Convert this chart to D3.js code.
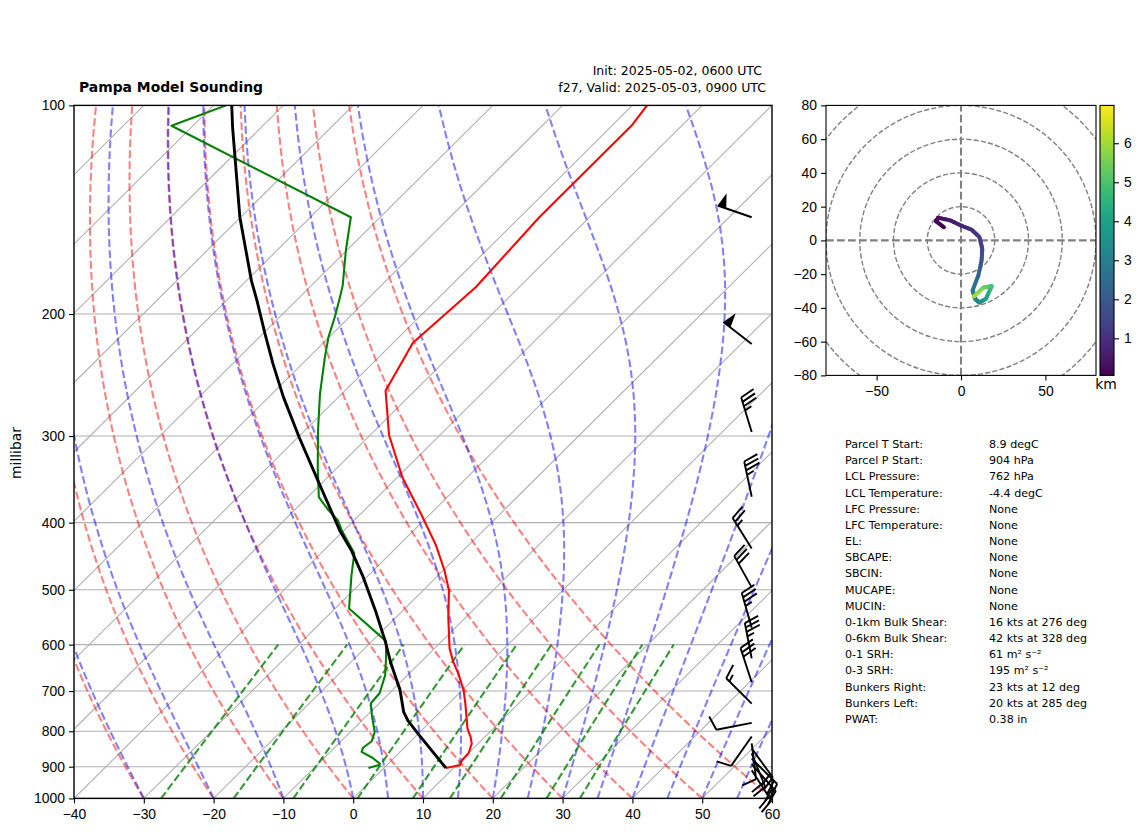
<!DOCTYPE html>
<html>
<head>
<meta charset="utf-8">
<script src="https://cdn.jsdelivr.net/npm/d3@7"></script>
<style>
  body { margin: 0; background: #fff; }
  svg { display: block; font-family: "DejaVu Sans", sans-serif; }
  .tick text { font-size: 13.9px; fill: #000; }
  .tick line, .domain { stroke: #000; stroke-width: 1.1px; }
  .grid { stroke: #b0b0b0; stroke-width: 1.1px; fill: none; }
  .info { font-size: 11.1px; }
  .head { font-size: 12.5px; }
</style>
</head>
<body>
<svg id="chart" width="1142" height="832"></svg>
<script>
// sounding (hPa, degC)
const tempP = [904, 896, 881, 860, 834, 816, 793, 730, 698, 661, 636, 608, 548, 501, 469, 431, 390, 344, 299, 258, 220, 183, 145, 107, 100];
const tempC = [8.9, 10.5, 10.1, 10, 9.1, 8, 6.3, 2.4, 0.2, -2.9, -5.3, -7.8, -12.5, -16.3, -19.8, -24.7, -31.1, -39.3, -47.3, -54.2, -57.2, -56.2, -57.2, -57.2, -57.9];

const dewP = [904, 896, 891, 873, 857, 845, 827, 802, 759, 729, 705, 664, 628, 593, 532, 477, 443, 410.5, 397, 384, 367.5, 332.5, 294, 261, 231, 216, 202, 191, 182, 162, 145, 107, 100];
const dewC = [-2.2, -1.2, -1.2, -3.2, -5.5, -5.9, -5.6, -6.5, -9.3, -11.2, -11.4, -13.2, -15.5, -18, -28, -32.4, -35.2, -40.3, -42.3, -45.1, -48.4, -52.9, -58.2, -63.1, -67.7, -70.1, -72.1, -73.9, -75.5, -80.1, -84.2, -123.1, -118.2];

const parcelP = [904, 807, 772, 751, 698, 636, 592, 535, 477, 439, 410.5, 349.6, 301, 263.6, 236, 213.5, 191, 179, 145, 107.6, 100];
const parcelC = [8.9, 0, -3.4, -5.2, -8.9, -14.3, -18.2, -24, -30.8, -36, -40.6, -50.6, -59.9, -67.9, -74.2, -79.7, -85.7, -89.3, -100.1, -114.1, -117.4];

const windP = [145, 221, 296, 367, 436, 496, 567, 628, 680, 730, 778, 814, 833, 861, 847, 876, 893, 911];
const windKt = [50, 50, 35, 35, 25, 30, 35, 35, 30, 15, 10, 10, 10, 20, 20, 20, 20, 20];
const windDir = [289, 308, 343, 348, 328, 331, 344, 349, 342, 315, 259, 215, 173, 158, 144, 135, 138, 147];

// hodograph (kts) with height (km)
const hodoU = [-9.5, -14.8, -13.4, -6.5, -0.2, 6.3, 10.9, 12.6, 12.2, 10.3, 6.9, 8.3, 10.9, 14.8, 18.2, 13.2, 7.7];
const hodoV = [7.3, 11.3, 13.4, 11.9, 8.9, 6.3, 2, -4.9, -11.9, -20.7, -29.6, -34.6, -36.9, -34.6, -27.1, -28, -33.2];
const hodoKm = [0.05, 0.15, 0.3, 0.5, 0.7, 0.95, 1.2, 1.5, 1.85, 2.2, 2.7, 2.9, 3.4, 3.9, 4.8, 5.4, 6.1];

// background reference lines, these are thermodynamic curves and not readings
const dryBase = [-40, -30, -20, -10, 0, 10, 20, 30, 40, 50, 60];
const moistBase = [-40, -30, -20, -10, 0, 5, 10, 15, 20, 25, 30, 35, 40, 45, 50, 55, 60];
const mixRatios = [0.0004, 0.001, 0.002, 0.004, 0.007, 0.01, 0.016, 0.024, 0.032];

const pressTicks = [100, 200, 300, 400, 500, 600, 700, 800, 900, 1000];
const tempTicks = [-40, -30, -20, -10, 0, 10, 20, 30, 40, 50, 60];
const isotherms = d3.range(-140, 61, 10);

const infoLabels = ["Parcel T Start:", "Parcel P Start:", "LCL Pressure:", "LCL Temperature:", "LFC Pressure:", "LFC Temperature:", "EL:", "SBCAPE:", "SBCIN:", "MUCAPE:", "MUCIN:", "0-1km Bulk Shear:", "0-6km Bulk Shear:", "0-1 SRH:", "0-3 SRH:", "Bunkers Right:", "Bunkers Left:", "PWAT:"];
const infoValues = ["8.9 degC", "904 hPa", "762 hPa", "-4.4 degC", "None", "None", "None", "None", "None", "None", "None", "16 kts at 276 deg", "42 kts at 328 deg", "61 m² s⁻²", "195 m² s⁻²", "23 kts at 12 deg", "20 kts at 285 deg", "0.38 in"];

const svg = d3.select("#chart");

// --- skew-T ---
const plot = { left: 74, right: 772, top: 105.4, bottom: 798.4 };
const xScale = d3.scaleLinear().domain([-40, 60]).range([plot.left, plot.right]);
const yScale = d3.scaleLog().domain([1000, 100]).range([plot.bottom, plot.top]);
// skew is a full axes width from bottom to top, so 100 degC
const skewX = (t, p) => xScale(t + 100 * Math.log10(1000 / p));

svg.append("clipPath").attr("id", "skewClip").append("rect")
  .attr("x", plot.left).attr("y", plot.top)
  .attr("width", plot.right - plot.left).attr("height", plot.bottom - plot.top);

const skewG = svg.append("g").attr("clip-path", "url(#skewClip)");
const skewLine = d3.line().x((d) => skewX(d[1], d[0])).y((d) => yScale(d[0]));

isotherms.forEach((t) => {
  skewG.append("path").attr("class", "grid").attr("d", skewLine([[1000, t], [100, t]]));
});
pressTicks.forEach((p) => {
  skewG.append("line").attr("class", "grid")
    .attr("x1", plot.left).attr("x2", plot.right)
    .attr("y1", yScale(p)).attr("y2", yScale(p));
});

const fineP = d3.range(1000, 99, -10);

function dryCurve(t0) {
  return fineP.map((p) => [p, (t0 + 273.15) * Math.pow(p / 1000, 0.2857) - 273.15]);
}

function satMixing(tK, p) {
  const es = 6.112 * Math.exp(17.67 * (tK - 273.15) / (tK - 29.65));
  return 0.622 * es / (p - es);
}

function moistSlope(p, tK) {
  const rs = satMixing(tK, p);
  const Rd = 287.05, Cp = 1005, Lv = 2.501e6;
  return ((Rd * tK + Lv * rs) / (Cp + (Lv * Lv * rs * 0.622) / (Rd * tK * tK))) / p;
}

function moistCurve(t0) {
  let t = t0 + 273.15;
  const pts = [[1000, t0]];
  for (let i = 1; i < fineP.length; i++) {
    const p = fineP[i - 1], h = fineP[i] - p;
    const k1 = moistSlope(p, t);
    const k2 = moistSlope(p + h / 2, t + (h / 2) * k1);
    const k3 = moistSlope(p + h / 2, t + (h / 2) * k2);
    const k4 = moistSlope(p + h, t + h * k3);
    t += (h / 6) * (k1 + 2 * k2 + 2 * k3 + k4);
    pts.push([fineP[i], t - 273.15]);
  }
  return pts;
}

function mixCurve(w) {
  return [1000, 900, 800, 700, 600].map((p) => {
    const v = Math.log((p * w) / (0.622 + w) / 6.112);
    return [p, (243.5 * v) / (17.67 - v)];
  });
}

function dashed(data, color, opacity) {
  skewG.append("path")
    .attr("d", skewLine(data))
    .attr("fill", "none")
    .attr("stroke", color)
    .attr("stroke-opacity", opacity)
    .attr("stroke-width", 2.08)
    .attr("stroke-dasharray", "7.7 3.3");
}

dryBase.forEach((t) => dashed(dryCurve(t), "#ff0000", 0.5));
moistBase.forEach((t) => dashed(moistCurve(t), "#0000ff", 0.5));
mixRatios.forEach((w) => dashed(mixCurve(w), "#008000", 0.8));

function profile(ps, ts, color, width) {
  skewG.append("path")
    .attr("d", skewLine(ps.map((p, i) => [p, ts[i]])))
    .attr("fill", "none")
    .attr("stroke", color)
    .attr("stroke-width", width)
    .attr("stroke-linejoin", "round");
}
profile(tempP, tempC, "#ff0000", 2.08);
profile(dewP, dewC, "#008000", 2.08);
profile(parcelP, parcelC, "#000000", 2.9);

// frame and axes
svg.append("rect")
  .attr("x", plot.left).attr("y", plot.top)
  .attr("width", plot.right - plot.left).attr("height", plot.bottom - plot.top)
  .attr("fill", "none").attr("stroke", "#000").attr("stroke-width", 1.4);

svg.append("g")
  .attr("transform", `translate(0,${plot.bottom})`)
  .call(d3.axisBottom(xScale).tickValues(tempTicks).tickSize(5).tickPadding(6).tickSizeOuter(0))
  .call((g) => g.select(".domain").remove());
svg.append("g")
  .attr("transform", `translate(${plot.left},0)`)
  .call(d3.axisLeft(yScale).tickValues(pressTicks).tickFormat(d3.format("d")).tickSize(5).tickPadding(4).tickSizeOuter(0))
  .call((g) => g.select(".domain").remove());

svg.append("text")
  .attr("transform", "translate(21,453) rotate(-90)")
  .attr("text-anchor", "middle")
  .attr("font-size", 13.9)
  .text("millibar");

svg.append("text").attr("x", 79).attr("y", 92)
  .attr("font-size", 13.9).attr("font-weight", "bold")
  .text("Pampa Model Sounding");
svg.append("text").attr("x", 762).attr("y", 75)
  .attr("class", "head").attr("text-anchor", "end")
  .text("Init: 2025-05-02, 0600 UTC");
svg.append("text").attr("x", 766).attr("y", 92)
  .attr("class", "head").attr("text-anchor", "end")
  .text("f27, Valid: 2025-05-03, 0900 UTC");

// --- wind barbs along the right edge, not clipped ---
const barbX = 751.7;
const staff = 36;

function drawBarb(p, speed, dir) {
  const g = svg.append("g")
    .attr("transform", `translate(${barbX},${yScale(p)}) rotate(${dir})`);
  const spacing = 0.125 * staff;
  const tall = 0.4 * staff;
  const wide = 0.25 * staff;
  let left = Math.round(speed / 5) * 5;
  const flags = Math.floor(left / 50);
  left -= flags * 50;
  const full = Math.floor(left / 10);
  const half = left - full * 10 >= 5;

  g.append("line").attr("x1", 0).attr("y1", 0).attr("x2", 0).attr("y2", -staff)
    .attr("stroke", "#000").attr("stroke-width", 1.9);

  let off = 0;
  for (let i = 0; i < flags; i++) {
    g.append("path")
      .attr("d", `M0,${-staff + off}L${tall},${-staff + off + wide / 2}L0,${-staff + off + wide}Z`)
      .attr("fill", "#000");
    off += wide + spacing;
  }
  for (let i = 0; i < full; i++) {
    g.append("line")
      .attr("x1", 0).attr("y1", -staff + off)
      .attr("x2", tall).attr("y2", -staff + off - wide / 2)
      .attr("stroke", "#000").attr("stroke-width", 1.9);
    off += spacing;
  }
  if (half) {
    if (off === 0) off += 1.5 * spacing;
    g.append("line")
      .attr("x1", 0).attr("y1", -staff + off)
      .attr("x2", tall / 2).attr("y2", -staff + off - wide / 4)
      .attr("stroke", "#000").attr("stroke-width", 1.9);
  }
}
windP.forEach((p, i) => drawBarb(p, windKt[i], windDir[i]));

// --- hodograph ---
const hodo = { left: 826, right: 1096, top: 105.4, bottom: 375.4 };
const hx = d3.scaleLinear().domain([-80, 80]).range([hodo.left, hodo.right]);
const hy = d3.scaleLinear().domain([-80, 80]).range([hodo.bottom, hodo.top]);

svg.append("clipPath").attr("id", "hodoClip").append("rect")
  .attr("x", hodo.left).attr("y", hodo.top)
  .attr("width", hodo.right - hodo.left).attr("height", hodo.bottom - hodo.top);
const hodoG = svg.append("g").attr("clip-path", "url(#hodoClip)");

[20, 40, 60, 80, 100].forEach((r) => {
  hodoG.append("circle")
    .attr("cx", hx(0)).attr("cy", hy(0)).attr("r", hx(r) - hx(0))
    .attr("fill", "none").attr("stroke", "#808080")
    .attr("stroke-width", 1.4).attr("stroke-dasharray", "5.1 2.2");
});
[[-80, 0, 80, 0], [0, -80, 0, 80]].forEach((l) => {
  hodoG.append("line")
    .attr("x1", hx(l[0])).attr("y1", hy(l[1])).attr("x2", hx(l[2])).attr("y2", hy(l[3]))
    .attr("stroke", "#808080").attr("stroke-width", 2.08).attr("stroke-dasharray", "7.7 3.3");
});

const kmColor = d3.scaleSequential(d3.interpolateViridis).domain([0.05, 6.97]);
const hodoPts = hodoU.map((u, i) => ({ u, v: hodoV[i], km: hodoKm[i] }));
// split every leg so the colour runs along the line
d3.pairs(hodoPts).forEach(([a, b]) => {
  const mix = d3.interpolateObject(a, b);
  d3.pairs(d3.range(0, 1.01, 0.125)).forEach(([s, e]) => {
    const p0 = mix(s), p1 = mix(e);
    hodoG.append("line")
      .attr("x1", hx(p0.u)).attr("y1", hy(p0.v)).attr("x2", hx(p1.u)).attr("y2", hy(p1.v))
      .attr("stroke", kmColor((p0.km + p1.km) / 2))
      .attr("stroke-width", 4.2).attr("stroke-linecap", "round");
  });
});

svg.append("rect")
  .attr("x", hodo.left).attr("y", hodo.top)
  .attr("width", hodo.right - hodo.left).attr("height", hodo.bottom - hodo.top)
  .attr("fill", "none").attr("stroke", "#000").attr("stroke-width", 1.1);

svg.append("g").attr("transform", `translate(0,${hodo.bottom})`)
  .call(d3.axisBottom(hx).tickValues([-50, 0, 50]).tickSize(5).tickPadding(6).tickSizeOuter(0))
  .call((g) => g.select(".domain").remove());
svg.append("g").attr("transform", `translate(${hodo.left},0)`)
  .call(d3.axisLeft(hy).tickValues(d3.range(-80, 81, 20)).tickSize(5).tickPadding(4).tickSizeOuter(0))
  .call((g) => g.select(".domain").remove());

// colourbar
const bar = { left: 1100, right: 1114, top: 105.4, bottom: 375.4 };
const barY = d3.scaleLinear().domain([0.05, 6.97]).range([bar.bottom, bar.top]);
const grad = svg.append("linearGradient").attr("id", "viridisBar")
  .attr("x1", 0).attr("y1", 1).attr("x2", 0).attr("y2", 0);
d3.range(0, 1.001, 0.05).forEach((o) => {
  grad.append("stop").attr("offset", o).attr("stop-color", d3.interpolateViridis(o));
});
svg.append("rect")
  .attr("x", bar.left).attr("y", bar.top)
  .attr("width", bar.right - bar.left).attr("height", bar.bottom - bar.top)
  .attr("fill", "url(#viridisBar)").attr("stroke", "#000").attr("stroke-width", 1.1);
svg.append("g").attr("transform", `translate(${bar.right},0)`)
  .call(d3.axisRight(barY).tickValues([1, 2, 3, 4, 5, 6]).tickFormat(d3.format("d")).tickSize(5).tickPadding(5).tickSizeOuter(0))
  .call((g) => g.select(".domain").remove());
svg.append("text").attr("x", 1106).attr("y", 389)
  .attr("font-size", 13.9).attr("text-anchor", "middle").text("km");

// --- parcel table ---
const rowY = d3.scaleLinear().domain([0, infoLabels.length - 1]).range([448, 723]);
infoLabels.forEach((label, i) => {
  svg.append("text").attr("class", "info").attr("x", 845).attr("y", rowY(i)).text(label);
  svg.append("text").attr("class", "info").attr("x", 989).attr("y", rowY(i)).text(infoValues[i]);
});
</script>
</body>
</html>
